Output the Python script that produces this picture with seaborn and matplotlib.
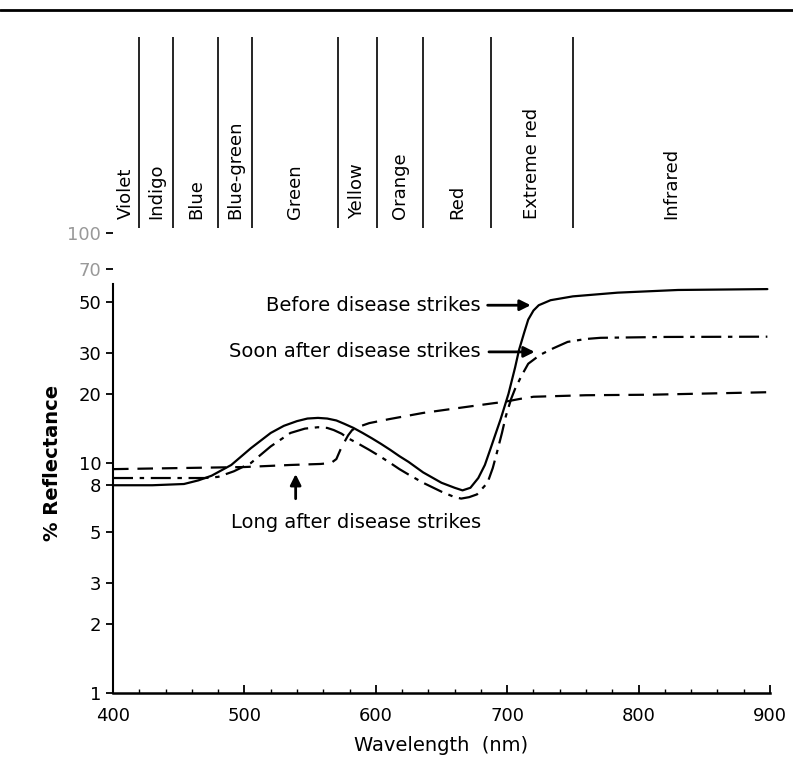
import seaborn as sns
import matplotlib.pyplot as plt
import pandas as pd
from matplotlib.lines import Line2D


# reflectance curves
before_nm = [400, 430, 454, 465, 475, 490, 505, 520, 530, 540, 548, 556, 563, 570, 576, 583, 590, 597, 604, 611, 618, 625, 636, 650, 660, 666, 672, 678, 683, 687, 691, 695, 698, 701, 706, 709, 713, 716, 720, 724, 733, 750, 784, 830, 898]
before_pct = [8.0, 8.0, 8.1, 8.4, 8.8, 9.8, 11.6, 13.5, 14.5, 15.2, 15.6, 15.7, 15.6, 15.3, 14.8, 14.2, 13.5, 12.8, 12.1, 11.4, 10.7, 10.1, 9.1, 8.2, 7.8, 7.6, 7.8, 8.6, 9.8, 11.4, 13.3, 15.5, 17.6, 20, 26, 31, 37, 42, 46, 48.5, 51, 53, 55, 56.5, 57]

soon_nm = [400, 440, 470, 480, 492, 505, 520, 535, 546, 556, 563, 568, 574, 579, 587, 595, 603, 611, 618, 625, 636, 650, 660, 665, 671, 677, 685, 689, 692, 696, 699, 703, 706, 711, 716, 725, 735, 746, 760, 771, 820, 898]
soon_pct = [8.6, 8.6, 8.6, 8.7, 9.2, 10.0, 11.8, 13.5, 14.1, 14.3, 14.2, 13.9, 13.4, 12.8, 12.1, 11.4, 10.7, 10.0, 9.4, 8.9, 8.2, 7.5, 7.1, 7.0, 7.1, 7.3, 8.2, 9.5, 11, 13.5, 16, 19, 21, 24, 27, 29.5, 31.5, 33.6, 34.6, 35, 35.3, 35.4]

long_nm = [400, 450, 500, 535, 558, 566, 570, 573, 576, 579, 582, 586, 595, 610, 636, 665, 690, 697, 710, 720, 760, 809, 898]
long_pct = [9.4, 9.5, 9.6, 9.8, 9.9, 10.0, 10.4, 11.4, 12.3, 13.2, 13.9, 14.3, 14.9, 15.5, 16.5, 17.4, 18.2, 18.4, 19.0, 19.4, 19.7, 19.8, 20.3]

# colour bands of the spectrum (edges in nm)
band_edges = [400, 420, 446, 480, 506, 571, 601, 636, 688, 750, 900]
band_names = ["Violet", "Indigo", "Blue", "Blue-green", "Green", "Yellow",
              "Orange", "Red", "Extreme red", "Infrared"]

y_ticks = [1, 2, 3, 5, 8, 10, 20, 30, 50, 70, 100]

sns.set_theme(style="ticks")
plt.rcParams['font.family'] = ['DejaVu Sans']
plt.rcParams['text.color'] = 'black'
plt.rcParams['axes.labelcolor'] = 'black'
plt.rcParams['xtick.color'] = 'black'
plt.rcParams['ytick.color'] = 'black'

fig = plt.figure(figsize=(7.93, 7.61), dpi=100)
ax = fig.add_axes([0.1425, 0.0894, 0.8285, 0.6045])

curves = pd.concat([
    pd.DataFrame({"nm": before_nm, "pct": before_pct, "state": "Before"}),
    pd.DataFrame({"nm": soon_nm, "pct": soon_pct, "state": "Soon"}),
    pd.DataFrame({"nm": long_nm, "pct": long_pct, "state": "Long"}),
])
styles = {"Before": "-", "Soon": (0, (9, 3, 2, 3)), "Long": (0, (7, 4))}
for state, grp in curves.groupby("state", sort=False):
    sns.lineplot(x="nm", y="pct", data=grp, ax=ax, color="black",
                 linewidth=1.6, linestyle=styles[state], sort=False,
                 estimator=None)

ax.set_yscale("log")
ax.set_xlim(400, 900)
ax.set_ylim(1, 100)
ax.set_yticks(y_ticks)
ax.set_yticklabels([str(t) for t in y_ticks], fontsize=13)
ax.minorticks_off()
for lab in ax.get_yticklabels()[-2:]:
    lab.set_color("#999999")
ax.set_xticks([400, 500, 600, 700, 800, 900])
ax.set_xticks(range(400, 901, 20), minor=True)
ax.tick_params(axis="x", which="major", direction="in", length=6, width=1.3, labelsize=13, pad=10)
ax.tick_params(axis="x", which="minor", direction="in", length=3, width=1)
ax.tick_params(axis="y", which="major", direction="out", length=5, width=1.3)
for s in ["top", "right"]:
    ax.spines[s].set_visible(False)
ax.spines["left"].set_bounds(1, 60)
ax.spines["left"].set_linewidth(1.5)
ax.spines["bottom"].set_linewidth(1.8)
ax.spines["left"].set_color("black")
ax.spines["bottom"].set_color("black")

ax.set_xlabel("Wavelength  (nm)", fontsize=14, labelpad=8)
ax.set_ylabel("% Reflectance", fontsize=14, fontweight="bold", labelpad=4)

# colour band dividers and names above the plot
trans = ax.get_xaxis_transform()
ax.vlines(band_edges[1:-1], 1.01, 1.425, transform=trans, color="black",
          linewidth=1.2, clip_on=False)
for i, name in enumerate(band_names):
    mid = (band_edges[i] + band_edges[i + 1]) / 2
    ax.text(mid, 1.03, name, transform=trans, rotation=90, ha="center",
            va="bottom", fontsize=13)

# annotations
arrow = dict(arrowstyle="-|>", color="black", lw=2, mutation_scale=16)
ax.text(680, 48.5, "Before disease strikes", ha="right", va="center", fontsize=14)
ax.annotate("", xy=(720, 48.5), xytext=(683, 48.5), arrowprops=arrow)
ax.text(680, 30.4, "Soon after disease strikes", ha="right", va="center", fontsize=14)
ax.annotate("", xy=(723, 30.4), xytext=(684, 30.4), arrowprops=arrow)
ax.text(585, 5.5, "Long after disease strikes", ha="center", va="center", fontsize=14)
ax.annotate("", xy=(539, 9.2), xytext=(539, 6.8), arrowprops=arrow)

fig.add_artist(Line2D([0, 1], [0.987, 0.987], color="black", linewidth=2))

fig.savefig("out.png", dpi=100)
